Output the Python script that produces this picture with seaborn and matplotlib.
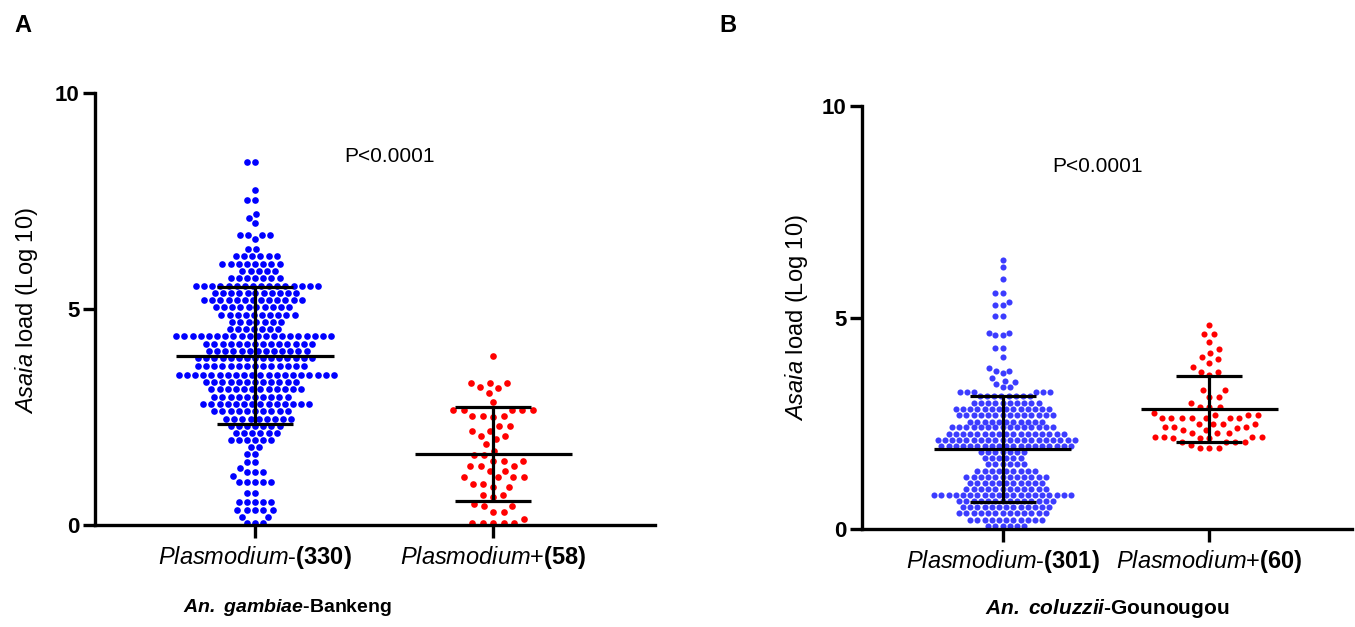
import numpy as np
import pandas as pd
import matplotlib
matplotlib.use("Agg")
import matplotlib.pyplot as plt
import seaborn as sns

# Asaia load (log10) per mosquito, read off the dot rows of the figure:
# each level is one row of dots, the count is how many dots sit in that row
# --- A: An. gambiae - Bankeng ---
a_neg_levels = [8.40, 7.75, 7.52, 7.19, 7.11, 7.00, 6.71, 6.62,
                6.38, 6.22, 6.05, 5.88, 5.72,
                5.54, 5.37, 5.20, 5.04, 4.87, 4.70, 4.53, 4.37, 4.20, 4.03,
                3.86, 3.68, 3.48, 3.31, 3.14, 2.97, 2.80, 2.63, 2.46,
                2.30, 2.13, 1.96, 1.80, 1.64, 1.45, 1.31, 1.22, 1.13, 1.00,
                0.74, 0.53, 0.34, 0.19, 0.05]
a_neg_counts = [2, 1, 2, 1, 1, 1, 4, 1,
                2, 6, 8, 5, 7,
                16, 11, 13, 10, 10, 7, 7, 20, 14, 13,
                15, 14, 20, 12, 12, 10, 14, 10, 9,
                7, 6, 6, 2, 2, 2, 1, 3, 1, 5,
                2, 5, 5, 2, 3]
a_pos_levels = [3.92, 3.29, 3.20, 3.16, 3.06, 2.85, 2.66, 2.52, 2.49, 2.30, 2.18, 2.07, 1.98,
                1.87, 1.72, 1.62, 1.49, 1.37, 1.26, 1.10, 0.96, 0.89, 0.69, 0.64, 0.49,
                0.44, 0.31, 0.15, 0.05]
a_pos_counts = [1, 3, 1, 1, 1, 1, 5, 3, 1, 2, 2, 2, 1,
                1, 1, 2, 3, 3, 2, 4, 2, 2, 2, 1, 1,
                2, 2, 1, 5]

# --- B: An. coluzzii - Gounougou ---
b_neg_levels = [6.37, 6.19, 5.90, 5.57, 5.36, 5.30, 5.04, 4.64, 4.59, 4.27, 4.06, 3.80, 3.74,
                3.68, 3.56, 3.51, 3.48, 3.43, 3.36, 3.25, 3.14,
                2.98, 2.83, 2.69, 2.54, 2.40, 2.25, 2.11, 1.96, 1.82, 1.67, 1.53,
                1.38, 1.24, 1.09, 0.95, 0.80, 0.66, 0.51, 0.37, 0.22, 0.08]
b_neg_counts = [1, 1, 1, 2, 1, 2, 2, 2, 2, 2, 1, 1, 2,
                1, 1, 1, 1, 1, 2, 6, 8,
                10, 14, 14, 11, 15, 17, 20, 19, 7, 6, 6,
                9, 12, 11, 12, 20, 14, 13, 13, 11, 6]
b_pos_levels = [4.83, 4.60, 4.42, 4.26, 4.17, 4.06, 4.02, 3.92, 3.84, 3.72, 3.64, 3.28, 3.12,
                2.97, 2.88, 2.75, 2.70, 2.62, 2.48, 2.42, 2.38, 2.34, 2.26, 2.18, 2.14,
                2.06, 1.99, 1.91]
b_pos_counts = [1, 2, 1, 1, 1, 1, 1, 1, 1, 2, 1, 2, 2,
                1, 3, 1, 3, 7, 4, 3, 1, 2, 3, 4, 3,
                4, 1, 3]

# mean and SD shown by the bars
a_means = [3.92, 1.65]
a_sds = [1.59, 1.09]
b_means = [1.89, 2.84]
b_sds = [1.25, 0.78]

a_labels = [r"$\mathit{Plasmodium}$-$\mathbf{(330)}$", r"$\mathit{Plasmodium}$+$\mathbf{(58)}$"]
b_labels = [r"$\mathit{Plasmodium}$-$\mathbf{(301)}$", r"$\mathit{Plasmodium}$+$\mathbf{(60)}$"]

sns.set_style("ticks")
plt.rcParams["font.family"] = ["Liberation Sans", "DejaVu Sans"]
plt.rcParams["mathtext.fontset"] = "custom"
plt.rcParams["mathtext.rm"] = "Liberation Sans"
plt.rcParams["mathtext.it"] = "Liberation Sans:italic"
plt.rcParams["mathtext.bf"] = "Liberation Sans:bold"
plt.rcParams["mathtext.bfit"] = "Liberation Sans:italic:bold"
for key in ["text.color", "axes.labelcolor", "xtick.color", "ytick.color", "axes.edgecolor"]:
    plt.rcParams[key] = "black"

W, H = 1355, 627
fig = plt.figure(figsize=(W / 100, H / 100), dpi=100)
axA = fig.add_axes([95 / W, 1 - 525 / H, (655 - 95) / W, (525 - 93) / H])
axB = fig.add_axes([862 / W, 1 - 529 / H, (1352 - 862) / W, (529 - 106) / H])


def draw_panel(ax, groups, labels, colors, means, sds, xlim, calc_sizes, dot_size):
    ax.set_xlim(*xlim)
    ax.set_ylim(0, 10)
    names = ["neg", "pos"]
    for i, vals in enumerate(groups):
        df = pd.DataFrame({"group": [names[i]] * len(vals), "load": vals})
        sns.swarmplot(data=df, x="group", y="load", order=names, color=colors[i],
                      size=calc_sizes[i], ax=ax, clip_on=False, zorder=2)
    ax.set_xlim(*xlim)
    ax.set_ylim(0, 10)
    # lay the swarm out with a looser spacing, then draw the dots at their real size
    # (GraphPad leaves gaps between its dots)
    fig.canvas.draw()
    for coll in ax.collections:
        if "draw" in coll.__dict__:
            del coll.draw
        coll.set_sizes([dot_size ** 2])
    # mean +/- SD
    for i, (m, s) in enumerate(zip(means, sds)):
        ax.hlines(m, i - 0.33, i + 0.33, color="black", lw=2.3, zorder=5)
        ax.hlines([m - s, m + s], i - 0.16, i + 0.16, color="black", lw=2.3, zorder=5)
        ax.vlines(i, m - s, m + s, color="black", lw=2.3, zorder=5)
    ax.set_yticks([0, 5, 10])
    ax.set_yticklabels(["0", "5", "10"], fontsize=16, fontweight="bold")
    ax.set_xticks([0, 1])
    ax.set_xticklabels(labels, fontsize=17)
    ax.set_xlabel("")
    ax.set_ylabel("")
    for side in ["top", "right"]:
        ax.spines[side].set_visible(False)
    for side in ["left", "bottom"]:
        ax.spines[side].set_linewidth(2.4)
    ax.tick_params(axis="both", width=2.4, length=9)
    ax.tick_params(axis="y", pad=2)
    ax.tick_params(axis="x", pad=5)


draw_panel(axA, [np.repeat(a_neg_levels, a_neg_counts), np.repeat(a_pos_levels, a_pos_counts)],
           a_labels, ["#0000ff", "#ff0000"], a_means, a_sds, (-0.672, 1.68), [5.6, 7.2], 4.8)
draw_panel(axB, [np.repeat(b_neg_levels, b_neg_counts), np.repeat(b_pos_levels, b_pos_counts)],
           b_labels, ["#3c3cff", "#ff0000"], b_means, b_sds, (-0.68, 1.69), [4.95, 6.5], 4.4)

# text around the panels
fig.text(14 / W, 1 - 25 / H, "A", fontsize=17, fontweight="bold", va="center")
fig.text(719 / W, 1 - 25 / H, "B", fontsize=17, fontweight="bold", va="center")
fig.text(390 / W, 1 - 157 / H, "P<0.0001", fontsize=15, ha="center", va="center")
fig.text(1097 / W, 1 - 167 / H, "P<0.0001", fontsize=15, ha="center", va="center")
fig.text(27 / W, 1 - 311 / H, r"$\mathit{Asaia}$ load (Log 10)", fontsize=17,
         rotation=90, ha="center", va="center")
fig.text(797 / W, 1 - 318 / H, r"$\mathit{Asaia}$ load (Log 10)", fontsize=17,
         rotation=90, ha="center", va="center")
fig.text(288 / W, 1 - 608 / H, r"$\mathbfit{An.\ gambiae}$-Bankeng", fontsize=14,
         fontweight="bold", ha="center", va="center")
fig.text(1107 / W, 1 - 608 / H, r"$\mathbfit{An.\ coluzzii}$-Gounougou", fontsize=15,
         fontweight="bold", ha="center", va="center")

fig.savefig("out.png", dpi=100)
